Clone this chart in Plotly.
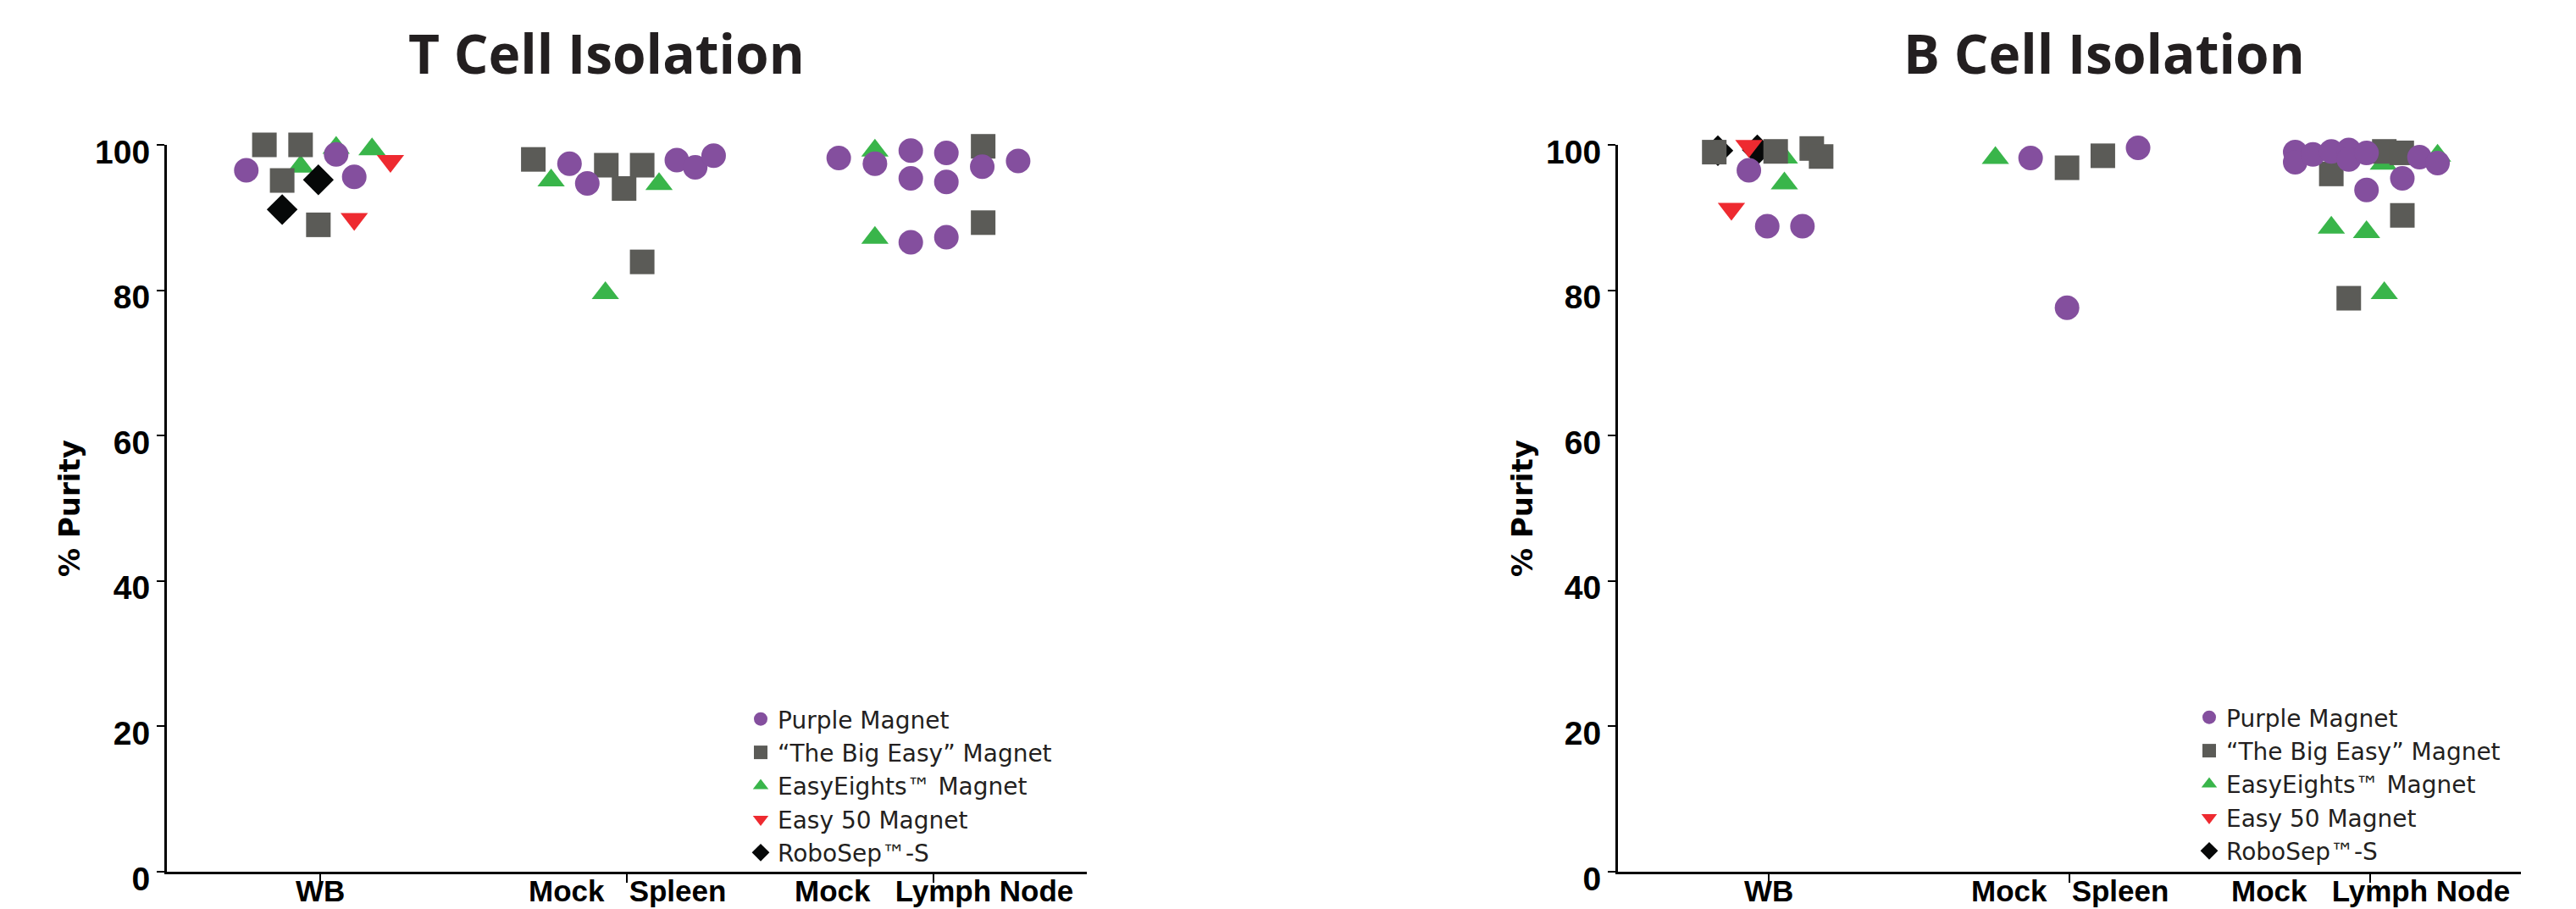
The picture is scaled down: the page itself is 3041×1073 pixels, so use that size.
import plotly.graph_objects as go

# ---------------- data ----------------
CATEGORIES = ["WB", "Mock\u00a0\u00a0\u00a0Spleen", "Mock\u00a0\u00a0\u00a0Lymph Node"]
CAT_POS = [1, 2, 3]
Y_TICKS = [0, 20, 40, 60, 80, 100]
SERIES = ["Purple Magnet", "\u201cThe Big Easy\u201d Magnet", "EasyEights\u2122 Magnet",
          "Easy 50 Magnet", "RoboSep\u2122-S"]
PANEL_TITLES = ["T Cell Isolation", "B Cell Isolation"]

# each point: (category index 1..3, jitter within category, % purity)
T_PURPLE = [(1, -0.241, 96.5), (1, 0.052, 98.7), (1, 0.111, 95.6),
            (2, -0.187, 97.4), (2, -0.129, 94.7), (2, 0.163, 97.9), (2, 0.223, 96.9), (2, 0.283, 98.5),
            (3, -0.309, 98.2), (3, -0.191, 97.4), (3, -0.074, 99.2), (3, -0.074, 95.4),
            (3, 0.042, 98.9), (3, 0.042, 94.9), (3, 0.159, 97.0), (3, 0.276, 97.8),
            (3, -0.074, 86.6), (3, 0.042, 87.3)]
T_SQUARE = [(1, -0.182, 100.0), (1, -0.064, 100.0), (1, -0.124, 95.1), (1, -0.006, 89.0),
            (2, -0.305, 98.0), (2, -0.067, 97.2), (2, -0.009, 94.0), (2, 0.050, 97.2), (2, 0.050, 83.9),
            (3, 0.162, 99.8), (3, 0.162, 89.3)]
T_GREEN = [(1, -0.064, 97.0), (1, 0.052, 99.6), (1, 0.169, 99.4),
           (2, -0.247, 95.1), (2, 0.105, 94.6), (2, -0.070, 79.6),
           (3, -0.191, 99.2), (3, -0.191, 87.2)]
T_RED = [(1, 0.229, 97.8), (1, 0.111, 89.8)]
T_DIAMOND = [(1, -0.006, 95.2), (1, -0.124, 91.1)]

B_PURPLE = [(1, -0.065, 96.5), (1, -0.004, 88.8), (1, 0.113, 88.8),
            (2, -0.129, 98.2), (2, 0.228, 99.6), (2, -0.008, 77.6),
            (3, -0.250, 99.0), (3, -0.250, 97.6), (3, -0.191, 98.7), (3, -0.130, 99.1),
            (3, -0.072, 99.3), (3, -0.072, 98.0), (3, -0.013, 98.9), (3, 0.163, 98.3),
            (3, 0.223, 97.5), (3, 0.106, 95.4), (3, -0.013, 93.8)]
B_SQUARE = [(1, -0.180, 99.0), (1, 0.024, 99.1), (1, 0.144, 99.5), (1, 0.175, 98.4),
            (2, -0.008, 96.85), (2, 0.111, 98.5),
            (3, 0.046, 99.1), (3, 0.104, 98.9), (3, -0.130, 96.0), (3, 0.106, 90.3), (3, -0.072, 78.9)]
B_GREEN = [(1, 0.053, 98.25), (1, 0.053, 94.7),
           (2, -0.246, 98.2),
           (3, 0.223, 98.5), (3, 0.043, 97.4), (3, -0.130, 88.6), (3, -0.013, 88.0), (3, 0.046, 79.6)]
B_RED = [(1, -0.065, 99.85), (1, -0.123, 91.2)]
B_DIAMOND = [(1, -0.168, 99.2), (1, -0.037, 99.3)]

# ---------------- layout geometry (screen pixels of the 3041x1073 window) ----------------
W, H = 3041, 1073
OFF = 8                      # default page margin around the figure div
PLOT_TOP, PLOT_BOT = 171, 1029
MT = PLOT_TOP - OFF
MB = H - (PLOT_BOT - OFF)
plot_h = H - MT - MB

def sx(px):
    return (px - OFF) / W

def sy(px):
    return (H - MB - (px - OFF)) / plot_h

STYLE = {
    SERIES[0]: dict(symbol="circle", color="#844F9E", size=29, rank=1),
    SERIES[1]: dict(symbol="square", color="#5B5B57", size=29, rank=2),
    SERIES[2]: dict(symbol="triangle-up", color="#39B54A", size=28, rank=3),
    SERIES[3]: dict(symbol="triangle-down", color="#EE2A30", size=28, rank=4),
    SERIES[4]: dict(symbol="diamond", color="#060808", size=28, rank=5),
}
# draw order (bottom to top)
DRAW = [2, 4, 3, 1, 0]

panels = [
    dict(data=[T_PURPLE, T_SQUARE, T_GREEN, T_RED, T_DIAMOND], xa="x", ya="y", leg="legend"),
    dict(data=[B_PURPLE, B_SQUARE, B_GREEN, B_RED, B_DIAMOND], xa="x2", ya="y2", leg="legend2"),
]

fig = go.Figure()
for p in panels:
    for si in DRAW:
        name = SERIES[si]
        st = STYLE[name]
        pts = p["data"][si]
        fig.add_trace(go.Scatter(
            x=[c + j for c, j, v in pts],
            y=[v for c, j, v in pts],
            mode="markers", name=name,
            marker=dict(symbol=st["symbol"], color=st["color"], size=st["size"], line=dict(width=0)),
            xaxis=p["xa"], yaxis=p["ya"], legend=p["leg"], legendrank=st["rank"],
            cliponaxis=False, hoverinfo="x+y",
        ))

axis_line = dict(showline=True, linecolor="black", linewidth=3, ticks="outside",
                 tickcolor="black", tickwidth=2, showgrid=False, zeroline=False, automargin=False)
xfont = dict(family="Liberation Sans", size=35, color="black", weight="bold")
yfont = dict(family="Liberation Sans", size=39, color="black", weight="bold")

xcommon = dict(range=[0.5, 3.5], tickvals=CAT_POS, ticklen=10, showticklabels=False, **axis_line)
ycommon = dict(domain=[0, 1], range=[0, 100], tickvals=Y_TICKS, ticklen=9,
               tickfont=yfont, ticklabelshift=8, **axis_line)
legfont = dict(family="DejaVu Sans", size=28, color="#231F20")

fig.update_layout(
    width=W, height=H,
    margin=dict(l=0, r=0, t=MT, b=MB, autoexpand=False),
    plot_bgcolor="white", paper_bgcolor="white",
    xaxis=dict(domain=[sx(197), sx(1283)], anchor="y", **xcommon),
    yaxis=dict(anchor="x", **ycommon),
    xaxis2=dict(domain=[sx(1910), sx(2976)], anchor="y2", **xcommon),
    yaxis2=dict(anchor="x2", **ycommon),
    legend=dict(x=sx(878), y=sy(824), xanchor="left", yanchor="top", font=legfont,
                bgcolor="rgba(0,0,0,0)", traceorder="normal"),
    legend2=dict(x=sx(2588), y=sy(822), xanchor="left", yanchor="top", font=legfont,
                 bgcolor="rgba(0,0,0,0)", traceorder="normal"),
    showlegend=True,
)

# category labels under each x axis
for xr in ["x", "x2"]:
    for pos, lab in zip(CAT_POS, CATEGORIES):
        fig.add_annotation(text=lab, x=pos, xref=xr, y=sy(1072), yref="paper",
                           showarrow=False, font=xfont, xanchor="center", yanchor="bottom",
                           borderpad=0)

title_font = dict(family="Open Sans", size=64, color="#231F20", weight="bold")
ytitle_font = dict(family="DejaVu Sans", size=34, color="black", weight="bold")
for tx, cx in zip(PANEL_TITLES, [716, 2484]):
    fig.add_annotation(text=tx, x=sx(cx), y=sy(62), xref="paper", yref="paper",
                       showarrow=False, font=title_font, xanchor="center", yanchor="middle")
for cx in [82, 1797]:
    fig.add_annotation(text="% Purity", x=sx(cx), y=sy(600), xref="paper", yref="paper",
                       showarrow=False, font=ytitle_font, textangle=-90,
                       xanchor="center", yanchor="middle")

fig.write_html("out.html")
